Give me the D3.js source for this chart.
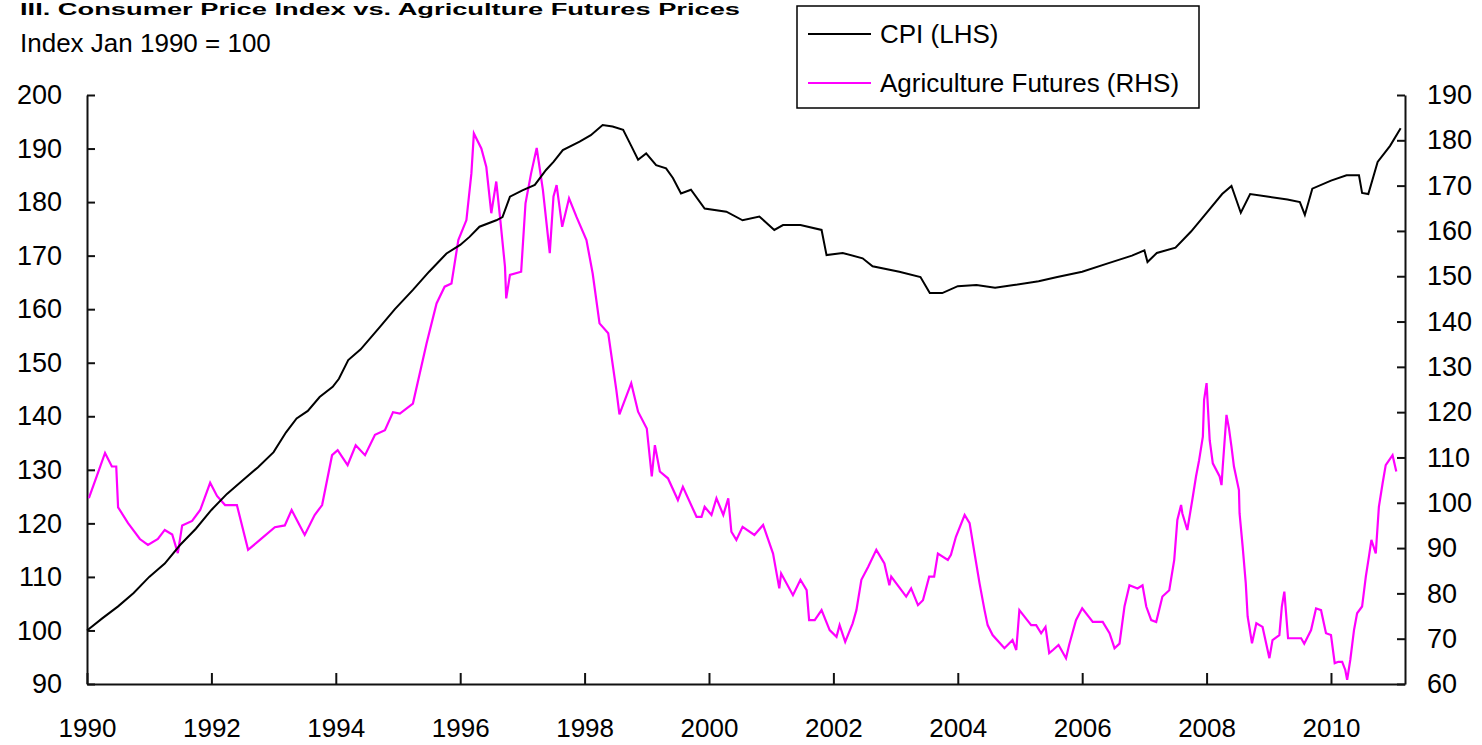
<!DOCTYPE html>
<html>
<head>
<meta charset="utf-8">
<script src="https://cdn.jsdelivr.net/npm/d3@7"></script>
<style>
  body { margin: 0; background: #fff; }
  text { font-family: "Liberation Sans", Arial, sans-serif; }
</style>
</head>
<body>
<svg id="chart" width="1482" height="745"></svg>
<script>
// values: [decimal year, index]
var cpiPoints = [
  [1990.00,100],[1990.25,102.3],[1990.50,104.5],[1990.75,107],[1991.00,110],[1991.25,112.5],
  [1991.50,116],[1991.75,119],[1992.00,122.5],[1992.25,125.5],[1992.50,128],[1992.75,130.5],
  [1993.00,133.3],[1993.20,137],[1993.37,139.6],[1993.55,141],[1993.74,143.6],[1993.95,145.5],
  [1994.05,147],[1994.20,150.5],[1994.40,152.5],[1994.71,156.7],[1994.95,160],[1995.24,163.6],
  [1995.50,167],[1995.78,170.4],[1996.00,172],[1996.15,173.5],[1996.31,175.4],[1996.58,176.6],
  [1996.68,177.2],[1996.80,181],[1997.00,182.2],[1997.20,183.2],[1997.38,186],[1997.50,187.5],
  [1997.65,189.7],[1997.92,191.3],[1998.10,192.5],[1998.29,194.4],[1998.45,194.1],[1998.62,193.5],
  [1998.75,190.5],[1998.86,187.9],[1998.99,189.1],[1999.15,186.9],[1999.31,186.3],[1999.42,184.5],
  [1999.55,181.6],[1999.71,182.3],[1999.93,178.8],[2000.28,178.2],[2000.54,176.6],[2000.81,177.3],
  [2001.05,174.8],[2001.19,175.7],[2001.47,175.7],[2001.81,174.8],[2001.89,170.1],[2002.15,170.5],
  [2002.47,169.5],[2002.63,168],[2003.06,167],[2003.40,166],[2003.55,163],[2003.75,163],
  [2004.00,164.3],[2004.30,164.5],[2004.60,164],[2004.90,164.5],[2005.30,165.2],[2005.60,166],
  [2006.00,167],[2006.40,168.5],[2006.80,170],[2007.00,171],[2007.05,168.8],[2007.20,170.5],
  [2007.50,171.5],[2007.75,174.5],[2008.00,178],[2008.25,181.5],[2008.40,183],[2008.55,178],
  [2008.70,181.5],[2009.00,181],[2009.30,180.5],[2009.50,180],[2009.58,177.6],[2009.70,182.5],
  [2010.00,184],[2010.25,185],[2010.45,185],[2010.50,181.7],[2010.60,181.5],[2010.75,187.5],
  [2010.95,190.5],[2011.12,193.8]
];

var agriPoints = [
  [1990.03,101],[1990.16,106],[1990.29,111],[1990.40,108],[1990.47,108],[1990.50,99],
  [1990.66,95.5],[1990.85,92],[1990.98,90.7],[1991.14,92],[1991.25,94],[1991.37,93],
  [1991.46,88.9],[1991.53,95],[1991.69,96],[1991.82,98.4],[1991.98,104.4],[1992.09,101.5],
  [1992.22,99.5],[1992.41,99.5],[1992.59,89.6],[1992.78,91.8],[1993.02,94.6],[1993.18,95],
  [1993.29,98.4],[1993.42,95],[1993.50,92.9],[1993.66,97.3],[1993.78,99.5],[1993.94,110.5],
  [1994.03,111.6],[1994.19,108.3],[1994.32,112.7],[1994.47,110.5],[1994.63,115],[1994.79,116],
  [1994.92,120],[1995.03,119.7],[1995.24,121.9],[1995.46,135.2],[1995.62,144],[1995.75,147.7],
  [1995.86,148.4],[1995.97,158],[1996.10,162.4],[1996.18,172.7],[1996.22,181.5],[1996.34,178.2],
  [1996.42,174.1],[1996.50,163.9],[1996.58,170.9],[1996.64,163.1],[1996.72,152.1],[1996.74,145.1],
  [1996.80,150.3],[1996.98,151],[1997.05,166.1],[1997.14,172.7],[1997.23,178.3],[1997.33,169],
  [1997.44,155.1],[1997.50,167.6],[1997.55,170.1],[1997.64,160.9],[1997.75,167.2],[1997.87,163.1],
  [1998.03,158],[1998.13,150.6],[1998.24,139.6],[1998.38,137.4],[1998.51,124.9],[1998.56,119.5],
  [1998.75,126.4],[1998.86,120.1],[1999.00,116.4],[1999.08,105.8],[1999.13,112.7],[1999.21,106.9],
  [1999.34,105.4],[1999.50,100.6],[1999.58,103.5],[1999.80,96.9],[1999.88,96.9],[1999.93,99.1],
  [2000.04,97.3],[2000.12,101],[2000.23,97.3],[2000.31,101],[2000.36,93.6],[2000.44,91.8],
  [2000.54,94.7],[2000.73,92.9],[2000.87,95.1],[2001.03,88.8],[2001.13,81.1],[2001.16,84.4],
  [2001.35,79.6],[2001.47,83],[2001.57,80.7],[2001.61,74.1],[2001.70,74.1],[2001.81,76.3],
  [2001.94,71.9],[2002.05,70.4],[2002.10,73],[2002.19,69.3],[2002.31,73.4],[2002.37,76.3],
  [2002.45,83],[2002.56,85.9],[2002.69,89.6],[2002.82,86.6],[2002.90,81.8],[2002.93,83.7],
  [2003.17,79.3],[2003.25,81.1],[2003.36,77.4],[2003.44,78.5],[2003.54,83.7],[2003.62,83.7],
  [2003.68,88.8],[2003.84,87.4],[2003.89,88.5],[2003.97,92.5],[2004.11,97.3],[2004.19,95.5],
  [2004.27,88.8],[2004.35,82.2],[2004.43,76.3],[2004.48,73],[2004.56,70.8],[2004.75,67.9],
  [2004.88,69.7],[2004.94,67.5],[2004.99,76.3],[2005.18,73],[2005.26,73],[2005.34,71.2],
  [2005.41,72.6],[2005.47,66.8],[2005.53,67.5],[2005.62,68.6],[2005.74,65.7],[2005.79,68.6],
  [2005.90,74.1],[2006.00,76.7],[2006.17,73.7],[2006.33,73.7],[2006.44,71.2],[2006.52,67.9],
  [2006.60,68.9],[2006.68,77.1],[2006.76,81.8],[2006.89,81.1],[2006.97,81.8],[2007.03,77.1],
  [2007.11,74.1],[2007.19,73.7],[2007.29,79.3],[2007.40,80.7],[2007.48,87.4],[2007.53,96.2],
  [2007.59,99.5],[2007.61,97.7],[2007.69,94],[2007.77,100.6],[2007.83,105.8],[2007.88,109.4],
  [2007.94,114.6],[2007.96,122.7],[2008.00,126.4],[2008.05,113.8],[2008.10,108.7],[2008.21,105.8],
  [2008.24,103.9],[2008.26,108],[2008.32,119.4],[2008.36,116.4],[2008.40,112.4],[2008.44,108],
  [2008.52,102.8],[2008.53,97.7],[2008.58,90.3],[2008.63,82.2],[2008.66,74.9],[2008.73,69],
  [2008.80,73.4],[2008.90,72.6],[2009.01,65.7],[2009.06,69.7],[2009.17,70.8],[2009.21,77.1],
  [2009.25,80.4],[2009.31,70.1],[2009.39,70.1],[2009.52,70.1],[2009.57,68.9],[2009.68,71.9],
  [2009.76,76.7],[2009.84,76.3],[2009.92,71.2],[2010.00,70.8],[2010.06,64.6],[2010.12,64.9],
  [2010.18,64.9],[2010.23,63.1],[2010.26,60.9],[2010.31,65.3],[2010.37,71.9],[2010.42,75.6],
  [2010.50,77.1],[2010.56,83.7],[2010.61,88.1],[2010.65,91.8],[2010.72,88.8],[2010.77,99.1],
  [2010.83,104.3],[2010.88,108.3],[2010.99,110.5],[2011.05,106.9]
];

var leftTicks = [90, 100, 110, 120, 130, 140, 150, 160, 170, 180, 190, 200];
var rightTicks = [60, 70, 80, 90, 100, 110, 120, 130, 140, 150, 160, 170, 180, 190];
var yearTicks = [1990, 1992, 1994, 1996, 1998, 2000, 2002, 2004, 2006, 2008, 2010];
var seriesNames = ["CPI (LHS)", "Agriculture Futures (RHS)"];
var seriesColors = ["#000000", "#ff00ff"];

var titleText = "III. Consumer Price Index vs. Agriculture Futures Prices";
var subtitleText = "Index Jan 1990 = 100";

var plot = { left: 87, right: 1405, top: 95, bottom: 684 };

var svg = d3.select("#chart");

var x = d3.scaleLinear().domain([1990, 2011.19]).range([plot.left, plot.right]);
var yLeft = d3.scaleLinear().domain([90, 200]).range([plot.bottom, plot.top]);
var yRight = d3.scaleLinear().domain([60, 190]).range([plot.bottom, plot.top]);

// title - squeezed into the thin strip above the subtitle
svg.append("text")
    .attr("x", 20).attr("y", 15)
    .attr("font-size", 16).attr("font-weight", "bold")
    .attr("textLength", 720).attr("lengthAdjust", "spacingAndGlyphs")
    .text(titleText);

svg.append("text")
    .attr("x", 20).attr("y", 52)
    .attr("font-size", 26)
    .text(subtitleText);

// axes
function styleAxis(g) {
    g.selectAll("path, line").attr("stroke", "#111").attr("stroke-width", 2);
    g.selectAll("text").attr("font-size", 27).attr("fill", "#000")
        .style("font-family", '"Liberation Sans", Arial, sans-serif');
}

svg.append("g")
    .attr("transform", "translate(" + plot.left + ",0)")
    .call(d3.axisLeft(yLeft).tickValues(leftTicks).tickSizeInner(-8).tickSizeOuter(0).tickPadding(25))
    .call(styleAxis);

svg.append("g")
    .attr("transform", "translate(" + plot.right + ",0)")
    .call(d3.axisRight(yRight).tickValues(rightTicks).tickSizeInner(-8).tickSizeOuter(0).tickPadding(22))
    .call(styleAxis);

svg.append("g")
    .attr("transform", "translate(0," + plot.bottom + ")")
    .call(d3.axisBottom(x).tickValues(yearTicks).tickFormat(d3.format("d"))
        .tickSizeInner(-11).tickSizeOuter(0).tickPadding(35))
    .call(styleAxis)
    .call(g => g.selectAll("text").attr("font-size", 26));

// lines
var lineLeft = d3.line().x(d => x(d[0])).y(d => yLeft(d[1]));
var lineRight = d3.line().x(d => x(d[0])).y(d => yRight(d[1]));

svg.append("path")
    .datum(agriPoints)
    .attr("fill", "none")
    .attr("stroke", seriesColors[1])
    .attr("stroke-width", 2.2)
    .attr("d", lineRight);

svg.append("path")
    .datum(cpiPoints)
    .attr("fill", "none")
    .attr("stroke", seriesColors[0])
    .attr("stroke-width", 2)
    .attr("d", lineLeft);

// legend
var legend = svg.append("g");
legend.append("rect")
    .attr("x", 797).attr("y", 6).attr("width", 402).attr("height", 102)
    .attr("fill", "#fff").attr("stroke", "#000").attr("stroke-width", 1.5);

seriesNames.forEach(function (name, i) {
    var ly = 34 + i * 49;
    legend.append("line")
        .attr("x1", 808).attr("x2", 871).attr("y1", ly).attr("y2", ly)
        .attr("stroke", seriesColors[i]).attr("stroke-width", 2);
    legend.append("text")
        .attr("x", 880).attr("y", ly).attr("dy", "0.35em")
        .attr("font-size", 26)
        .text(name);
});
</script>
</body>
</html>
